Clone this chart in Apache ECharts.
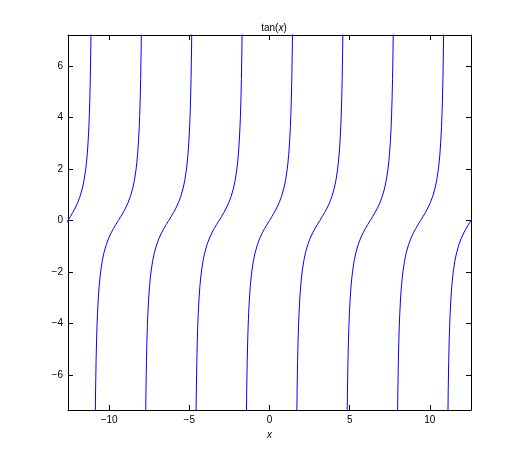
<!DOCTYPE html>
<html>
<head>
<meta charset="utf-8">
<script src="https://cdn.jsdelivr.net/npm/echarts@6/dist/echarts.min.js"></script>
<style>html,body{margin:0;padding:0;background:#fff}#c{width:520px;height:460px}</style>
</head>
<body>
<div id="c"></div>
<script>
// Branch centres (x where tan(x)=0), read along the x axis
const branchCenters = [-12.566, -9.425, -6.283, -3.142, 0, 3.142, 6.283, 9.425, 12.566];
// Offsets from a branch centre and the curve height at each offset
const offsets = [-1.46, -1.44, -1.42, -1.39, -1.36, -1.33, -1.3, -1.25, -1.2, -1.15, -1.1, -1.0, -0.9, -0.75, -0.6, -0.45, -0.3, -0.15, 0,
                 0.15, 0.3, 0.45, 0.6, 0.75, 0.9, 1.0, 1.1, 1.15, 1.2, 1.25, 1.3, 1.33, 1.36, 1.39, 1.42, 1.44, 1.46];
const yValues = [-8.989, -7.602, -6.581, -5.471, -4.674, -4.073, -3.602, -3.010, -2.572, -2.235, -1.965, -1.557, -1.260, -0.932, -0.684, -0.483, -0.309, -0.151, 0,
                 0.151, 0.309, 0.483, 0.684, 0.932, 1.260, 1.557, 1.965, 2.235, 2.572, 3.010, 3.602, 4.073, 4.674, 5.471, 6.581, 7.602, 8.989];
const xTicks = [-10, -5, 0, 5, 10];
const yTicks = [-6, -4, -2, 0, 2, 4, 6];
const xRange = [-12.566, 12.566];
const yRange = [-7.36, 7.2];

const FONT = 'Liberation Sans, Arial, Helvetica, sans-serif';
const fmt = v => String(v).replace('-', '\u2212');

const series = branchCenters.map(c => ({
  type: 'line',
  xAxisIndex: 0, yAxisIndex: 0,
  data: offsets.map((d, i) => [c + d, yValues[i]]),
  showSymbol: false, symbol: 'none',
  lineStyle: { color: '#0000ff', width: 1 },
  clip: true, silent: true, animation: false
}));

function axisCommon(min, max, ticks, pos, showLabels, extra) {
  return Object.assign({
    type: 'value', min: min, max: max, position: pos,
    axisLine: { show: true, onZero: false, lineStyle: { color: '#000', width: 1 } },
    axisTick: { show: true, inside: true, length: 5, customValues: ticks, lineStyle: { color: '#000', width: 1 } },
    axisLabel: { show: showLabels, customValues: ticks, margin: 5, color: '#000', fontSize: 10, fontFamily: FONT, formatter: fmt },
    splitLine: { show: false }
  }, extra || {});
}

const chart = echarts.init(document.getElementById('c'), null, { renderer: 'canvas' });
chart.setOption({
  animation: false,
  backgroundColor: '#fff',
  title: {
    text: '{a|tan(}{b|x}{a|)}',
    left: 269, top: 18, textAlign: 'center',
    textStyle: {
      fontSize: 10, fontWeight: 'normal', color: '#000', fontFamily: FONT,
      rich: {
        a: { fontSize: 10, color: '#000', fontFamily: FONT },
        b: { fontSize: 10, color: '#000', fontFamily: FONT, fontStyle: 'italic' }
      }
    }
  },
  grid: { left: 68, top: 35, right: 49, bottom: 50, containLabel: false, outerBoundsMode: 'none' },
  xAxis: [
    axisCommon(xRange[0], xRange[1], xTicks, 'bottom', true, {
      name: 'x', nameLocation: 'middle', nameGap: 20,
      nameTextStyle: { fontSize: 10, fontStyle: 'italic', color: '#000', fontFamily: FONT }
    }),
    axisCommon(xRange[0], xRange[1], xTicks, 'top', false)
  ],
  yAxis: [
    axisCommon(yRange[0], yRange[1], yTicks, 'left', true),
    axisCommon(yRange[0], yRange[1], yTicks, 'right', false)
  ],
  series: series
});
</script>
</body>
</html>
